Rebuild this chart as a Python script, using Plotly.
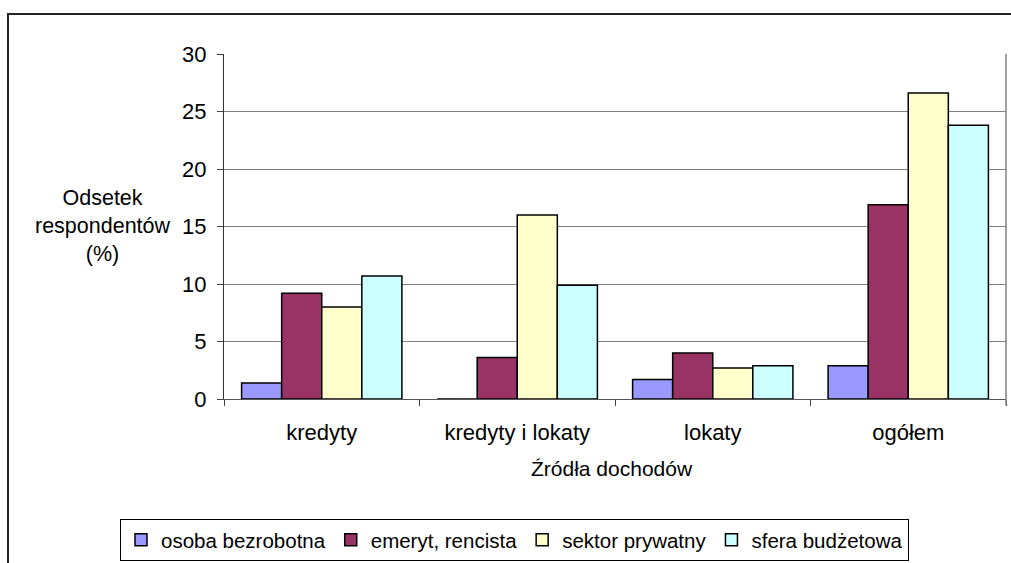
import plotly.graph_objects as go

categories = ["kredyty", "kredyty i lokaty", "lokaty", "ogółem"]
series_names = ["osoba bezrobotna", "emeryt, rencista", "sektor prywatny", "sfera budżetowa"]
osoba_bezrobotna = [1.4, 0.0, 1.7, 2.9]
emeryt_rencista = [9.2, 3.6, 4.0, 16.9]
sektor_prywatny = [8.0, 16.0, 2.7, 26.6]
sfera_budzetowa = [10.7, 9.9, 2.9, 23.8]
y_ticks = [0, 5, 10, 15, 20, 25, 30]

colors = ["#9999FF", "#993366", "#FFFFCC", "#CCFFFF"]
values = [osoba_bezrobotna, emeryt_rencista, sektor_prywatny, sfera_budzetowa]

FONT = "Liberation Sans, Arial, sans-serif"

W, H = 1011, 563
L, R, T, B = 224, 5, 54, 164
pw = W - L - R
ph = H - T - B

def px2x(px):
    return (px - L) / pw

def px2y(py):
    return (H - B - py) / ph

fig = go.Figure()
for name, vals, col in zip(series_names, values, colors):
    fig.add_trace(go.Bar(
        x=categories, y=vals, name=name,
        marker=dict(color=col, line=dict(color="black", width=1.5)),
    ))

fig.update_layout(
    width=W, height=H,
    margin=dict(l=L, r=R, t=T, b=B, pad=0, autoexpand=False),
    paper_bgcolor="white", plot_bgcolor="white",
    barmode="group", bargap=0.18, bargroupgap=0,
    font=dict(family=FONT, size=20, color="black"),
    showlegend=True,
    legend=dict(
        orientation="h", x=px2x(120), y=px2y(519), xanchor="left", yanchor="top",
        bordercolor="black", borderwidth=1, bgcolor="white",
        font=dict(family=FONT, size=20.5), itemwidth=30, traceorder="normal",
    ),
    xaxis=dict(
        type="category", tickson="boundaries", ticks="outside", ticklen=6,
        tickcolor="#444", showline=True, linecolor="#555", linewidth=1,
        showgrid=False, tickfont=dict(family=FONT, size=22),
        ticklabelstandoff=14,
    ),
    yaxis=dict(
        range=[0, 30], tickvals=y_ticks, ticks="outside", ticklen=6,
        tickcolor="#444", showline=True, linecolor="#333", linewidth=1,
        showgrid=True, gridcolor="#808080", gridwidth=1, zeroline=False,
        tickfont=dict(family=FONT, size=22), ticklabelstandoff=6,
    ),
    shapes=[
        dict(type="rect", xref="paper", yref="paper",
             x0=px2x(8), x1=px2x(1040), y0=px2y(620), y1=px2y(14),
             line=dict(color="#222", width=2), fillcolor="rgba(0,0,0,0)", layer="below"),
        dict(type="line", xref="paper", yref="paper",
             x0=1, x1=1, y0=px2y(405), y1=1,
             line=dict(color="#808080", width=1.5)),
    ],
    annotations=[
        dict(text="Odsetek<br>respondentów<br>(%)", xref="paper", yref="paper",
             x=px2x(103), y=px2y(226), xanchor="center", yanchor="middle",
             showarrow=False, align="center", font=dict(family=FONT, size=21.5)),
        dict(text="Źródła dochodów", xref="paper", yref="paper",
             x=px2x(612), y=px2y(468), xanchor="center", yanchor="middle",
             showarrow=False, font=dict(family=FONT, size=21)),
    ],
)

fig.write_html("out.html")
